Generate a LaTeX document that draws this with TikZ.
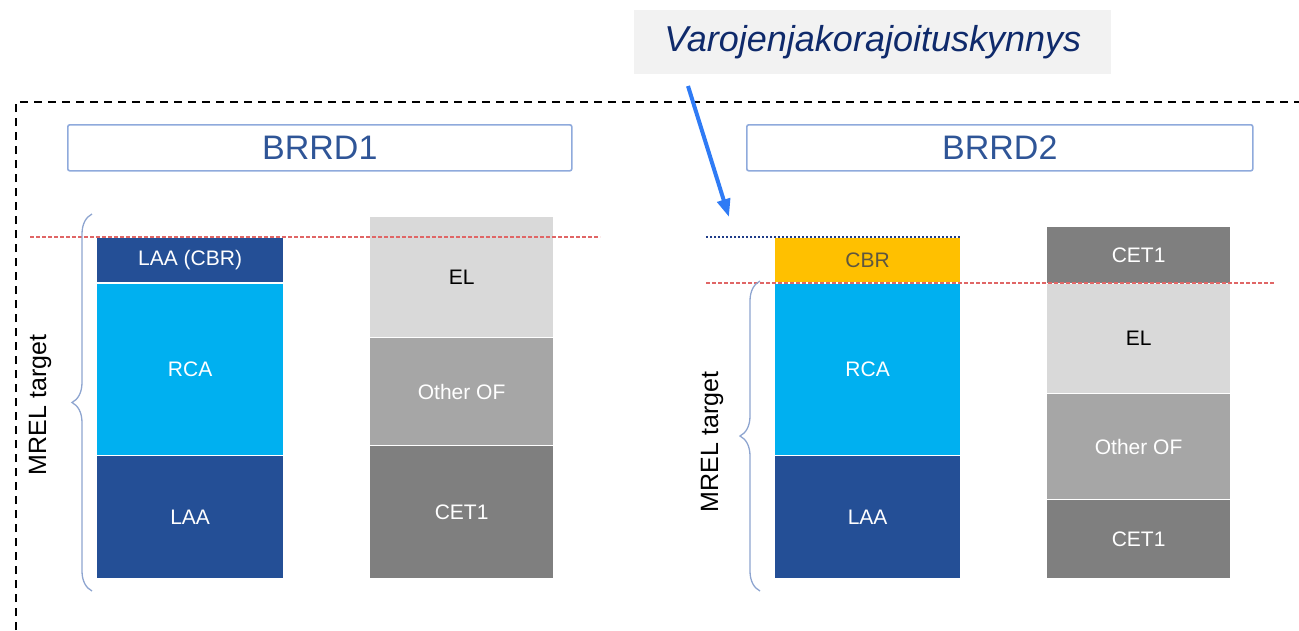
\documentclass[tikz,border=0pt]{standalone}
\usepackage{fontspec}
\setmainfont{Liberation Sans}
\usetikzlibrary{arrows.meta,decorations.pathreplacing}
\definecolor{laablue}{HTML}{244F96}
\definecolor{rcablue}{HTML}{00B0F0}
\definecolor{cbryel}{HTML}{FFC000}
\definecolor{elgray}{HTML}{D9D9D9}
\definecolor{ofgray}{HTML}{A6A6A6}
\definecolor{cetgray}{HTML}{7F7F7F}
\definecolor{titleblue}{HTML}{2F5597}
\definecolor{titleframe}{HTML}{8FAADC}
\definecolor{navy}{HTML}{0F2A6B}
\definecolor{arrowblue}{HTML}{2F7BF5}
\definecolor{reddash}{HTML}{E06666}
\definecolor{dotblue}{HTML}{1F3C88}
\definecolor{bracecol}{HTML}{8EA5D0}
\definecolor{cbrtext}{HTML}{5E5640}
\tikzset{
  seg/.style={draw=white, line width=1.2pt, inner sep=0pt, anchor=north west,
    text=white, font=\fontsize{21}{24}\selectfont},
  titlebox/.style={draw=titleframe, line width=1.6pt, rounded corners=2pt,
    inner sep=0pt, anchor=north west, text=titleblue, font=\fontsize{34}{36}\selectfont},
  mrel/.style={rotate=90, font=\fontsize{25}{28}\selectfont, text=black},
  reddashed/.style={draw=reddash, line width=1.4pt, dash pattern=on 3.5pt off 2.5pt},
  bluedotted/.style={draw=dotblue, line width=2pt, dash pattern=on 2pt off 2pt},
  bracestyle/.style={draw=bracecol, line width=1.3pt, decorate,
    decoration={brace, amplitude=20pt, aspect=0.5}},
  frame/.style={draw=black, line width=1.5pt, dash pattern=on 8pt off 6pt},
}
\begin{document}
\begin{tikzpicture}[x=1pt,y=-1pt]
\path[use as bounding box] (0,0) rectangle (1299,630);
% outer dashed frame
\draw[frame] (16,630) -- (16,102) -- (1299,102);
% callout label
\node[fill=black!5, minimum width=477pt, minimum height=64pt, inner sep=0pt,
  anchor=north west, text=navy, font=\fontsize{36}{40}\selectfont\itshape] (lbl) at (634,10) {Varojenjakorajoituskynnys};
% titles
\node[titlebox, minimum width=504pt, minimum height=46pt] (t1) at (67,124) {BRRD1};
\node[titlebox, minimum width=506pt, minimum height=46pt] (t2) at (746,124) {BRRD2};
% BRRD1 left column
\node[seg, fill=laablue, minimum width=187pt, minimum height=45pt] (a1) at (96,237) {LAA (CBR)};
\node[seg, fill=rcablue, minimum width=187pt, minimum height=172pt] (a2) at (96,283) {RCA};
\node[seg, fill=laablue, minimum width=187pt, minimum height=123pt] (a3) at (96,455) {LAA};
% BRRD1 right column
\node[seg, fill=elgray, text=black, minimum width=184pt, minimum height=121pt] (b1) at (369,216) {EL};
\node[seg, fill=ofgray, minimum width=184pt, minimum height=108pt] (b2) at (369,337) {Other OF};
\node[seg, fill=cetgray, minimum width=184pt, minimum height=133pt] (b3) at (369,445) {CET1};
% BRRD2 left column
\node[seg, fill=cbryel, text=cbrtext, minimum width=186pt, minimum height=45pt] (c1) at (774,237) {CBR};
\node[seg, fill=rcablue, minimum width=186pt, minimum height=172pt] (c2) at (774,283) {RCA};
\node[seg, fill=laablue, minimum width=186pt, minimum height=123pt] (c3) at (774,455) {LAA};
% BRRD2 right column
\node[seg, fill=cetgray, minimum width=184pt, minimum height=57pt] (d1) at (1046,226) {CET1};
\node[seg, fill=elgray, text=black, minimum width=184pt, minimum height=110pt] (d2) at (1046,283) {EL};
\node[seg, fill=ofgray, minimum width=184pt, minimum height=106pt] (d3) at (1046,393) {Other OF};
\node[seg, fill=cetgray, minimum width=184pt, minimum height=79pt] (d4) at (1046,499) {CET1};
% threshold lines
\draw[reddashed] (30,237) -- (600,237);
\draw[bluedotted] (706,237) -- (960,237);
\draw[reddashed] (706,283) -- (1275,283);
% braces
\draw[bracestyle] (92,591) -- (92,214);
\draw[bracestyle] (760,591) -- (760,281);
% MREL labels
\node[mrel] (m1) at (40,405) {MREL target};
\node[mrel] (m2) at (712,442) {MREL target};
% arrow
\coordinate (arrS) at (688,86);
\coordinate (arrE) at (729,217);
\draw[draw=arrowblue, line width=4pt, -{Triangle[length=18pt,width=13pt]}] (arrS) -- (arrE);
\end{tikzpicture}
\end{document}
